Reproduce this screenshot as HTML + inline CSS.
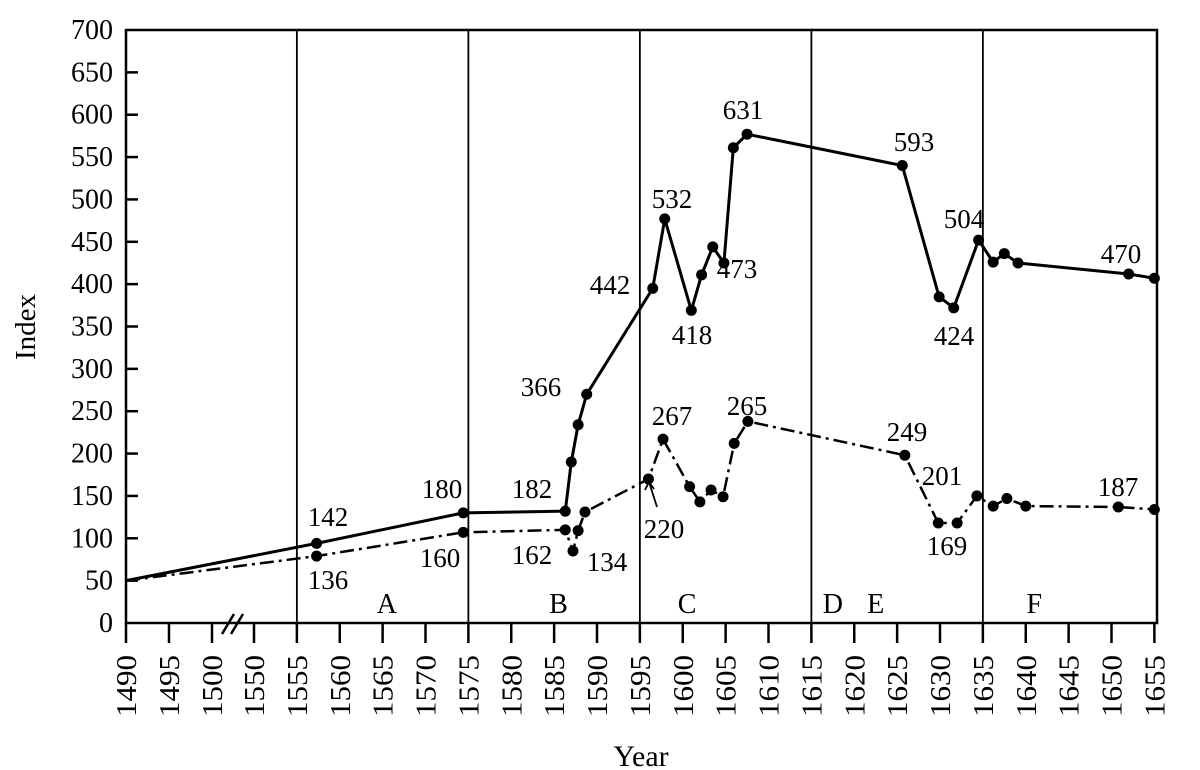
<!DOCTYPE html>
<html><head><meta charset="utf-8"><style>
html,body{margin:0;padding:0;background:#fff;}
svg{display:block;font-family:"Liberation Serif",serif;}
</style></head><body>
<svg id="chart" width="1200" height="770" viewBox="0 0 1200 770" xmlns="http://www.w3.org/2000/svg"></svg>
<script>
const solidYears=[1490,1557.3,1574.4,1586.3,1587,1587.8,1588.8,1596.5,1597.9,1601,1602.2,1603.5,1604.8,1605.9,1607.5,1625.6,1629.9,1631.6,1634.5,1636.2,1637.5,1639.1,1652,1655];
const solidValues=[50,94,130,132,190,234,270,395,477,369,411,444,425,561,577,540,385,372,452,426,436,425,412,407];
const dashYears=[1490,1557.3,1574.4,1586.3,1587.2,1587.8,1588.6,1596,1597.7,1600.8,1602,1603.3,1604.7,1606,1607.6,1625.9,1629.8,1632,1634.3,1636.2,1637.8,1640,1650.8,1655];
const dashValues=[50,79,107,110,85,109,131,170,217,161,143,157,149,212,238,198,118,118,150,138,147,138,137,134];
const xTicks=[1490,1495,1500,1550,1555,1560,1565,1570,1575,1580,1585,1590,1595,1600,1605,1610,1615,1620,1625,1630,1635,1640,1645,1650,1655];
const yTicks=[0,50,100,150,200,250,300,350,400,450,500,550,600,650,700];
const periodYears=[1555,1575,1595,1615,1635];
const periodLabels=[["A",1565.5],["B",1585.5],["C",1600.5],["D",1617.5],["E",1622.5],["F",1641]];
const solidAnn=[["142",328,526],["180",442,498],["182",532,498],["366",541,396],["442",610,294],["532",672,208],["418",692,344],["473",737,278],["631",743,119],["593",914,151],["504",964,228],["424",954,345],["470",1121,263]];
const dashAnn=[["136",328,589],["160",440,567],["162",532,564],["134",607,571],["267",672,425],["220",664,538],["265",747,415],["249",907,441],["201",942,485],["169",947,555],["187",1118,496]];

const X0=126,XR=1157,Y0=623,YT=30;
function xs(y){return y<=1500? X0+(y-1490)*8.6 : 254+(y-1550)*8.575;}
function ys(v){return Y0-(v/700)*(Y0-YT);}
const svg=document.getElementById('chart');
const NS='http://www.w3.org/2000/svg';
function mk(t,a,p){const e=document.createElementNS(NS,t);for(const k in a)e.setAttribute(k,a[k]);(p||svg).appendChild(e);return e;}

let e=mk('rect',{x:X0,y:YT,width:XR-X0,height:Y0-YT,fill:'none',stroke:'#000','stroke-width':2.5});


periodYears.forEach(p=>{
  const l=mk('line',{x1:xs(p),x2:xs(p),y1:YT,y2:Y0,stroke:'#000','stroke-width':1.8});
  
  
});
periodLabels.forEach(p=>{
  const t=mk('text',{x:xs(p[1]),y:613,'font-size':28,'text-anchor':'middle'});t.textContent=p[0];
  
  
});
yTicks.forEach(v=>{
  const y=ys(v);
  if(v>0&&v<700){const l=mk('line',{x1:X0,x2:X0+12,y1:y,y2:y,stroke:'#000','stroke-width':2.5});
  
  }
  const t=mk('text',{x:X0-13,y:y+9,'font-size':28,'text-anchor':'end'});t.textContent=v;
  
  
});
xTicks.forEach(v=>{
  const x=xs(v);
  const l=mk('line',{x1:x,x2:x,y1:Y0,y2:Y0+20,stroke:'#000','stroke-width':2.5});
  
  
  const t=mk('text',{x:0,y:0,'font-size':28,'text-anchor':'end',textLength:62,lengthAdjust:'spacingAndGlyphs',transform:`translate(${x+10},${655}) rotate(-90)`});t.textContent=v;
  
  
});
const br=mk('path',{d:'M222,634 L234,614 M231,634 L243,614',stroke:'#000','stroke-width':2.5,fill:'none'});


let t=mk('text',{x:0,y:0,'font-size':29,'text-anchor':'middle',transform:'translate(35,327) rotate(-90)'});t.textContent='Index';


t=mk('text',{x:641,y:766,'font-size':30,'text-anchor':'middle'});t.textContent='Year';



function series(yrs,vals,name,dash,w){
  const pts=yrs.map((y,i)=>xs(y)+','+ys(vals[i])).join(' ');
  const a={points:pts,fill:'none',stroke:'#000','stroke-width':w,'stroke-linejoin':'round'};
  if(dash)a['stroke-dasharray']=dash;
  const pl=mk('polyline',a);
  
  
  yrs.forEach((y,i)=>{if(i===0)return;
    const c=mk('circle',{cx:xs(y),cy:ys(vals[i]),r:5.5,fill:'#000'});
    
    
  });
}
series(solidYears,solidValues,'solid-series',null,3);
series(dashYears,dashValues,'dashdot-series','14 5 3 5',2.5);
const ar=mk('path',{d:'M657,507 L649,482 M645,490 L649,482 L654,489',stroke:'#000','stroke-width':1.8,fill:'none'});


solidAnn.concat(dashAnn).forEach(a=>{
  const tx=mk('text',{x:a[1],y:a[2],'font-size':27,'text-anchor':'middle'});tx.textContent=a[0];
  
  
});
</script>
</body></html>
